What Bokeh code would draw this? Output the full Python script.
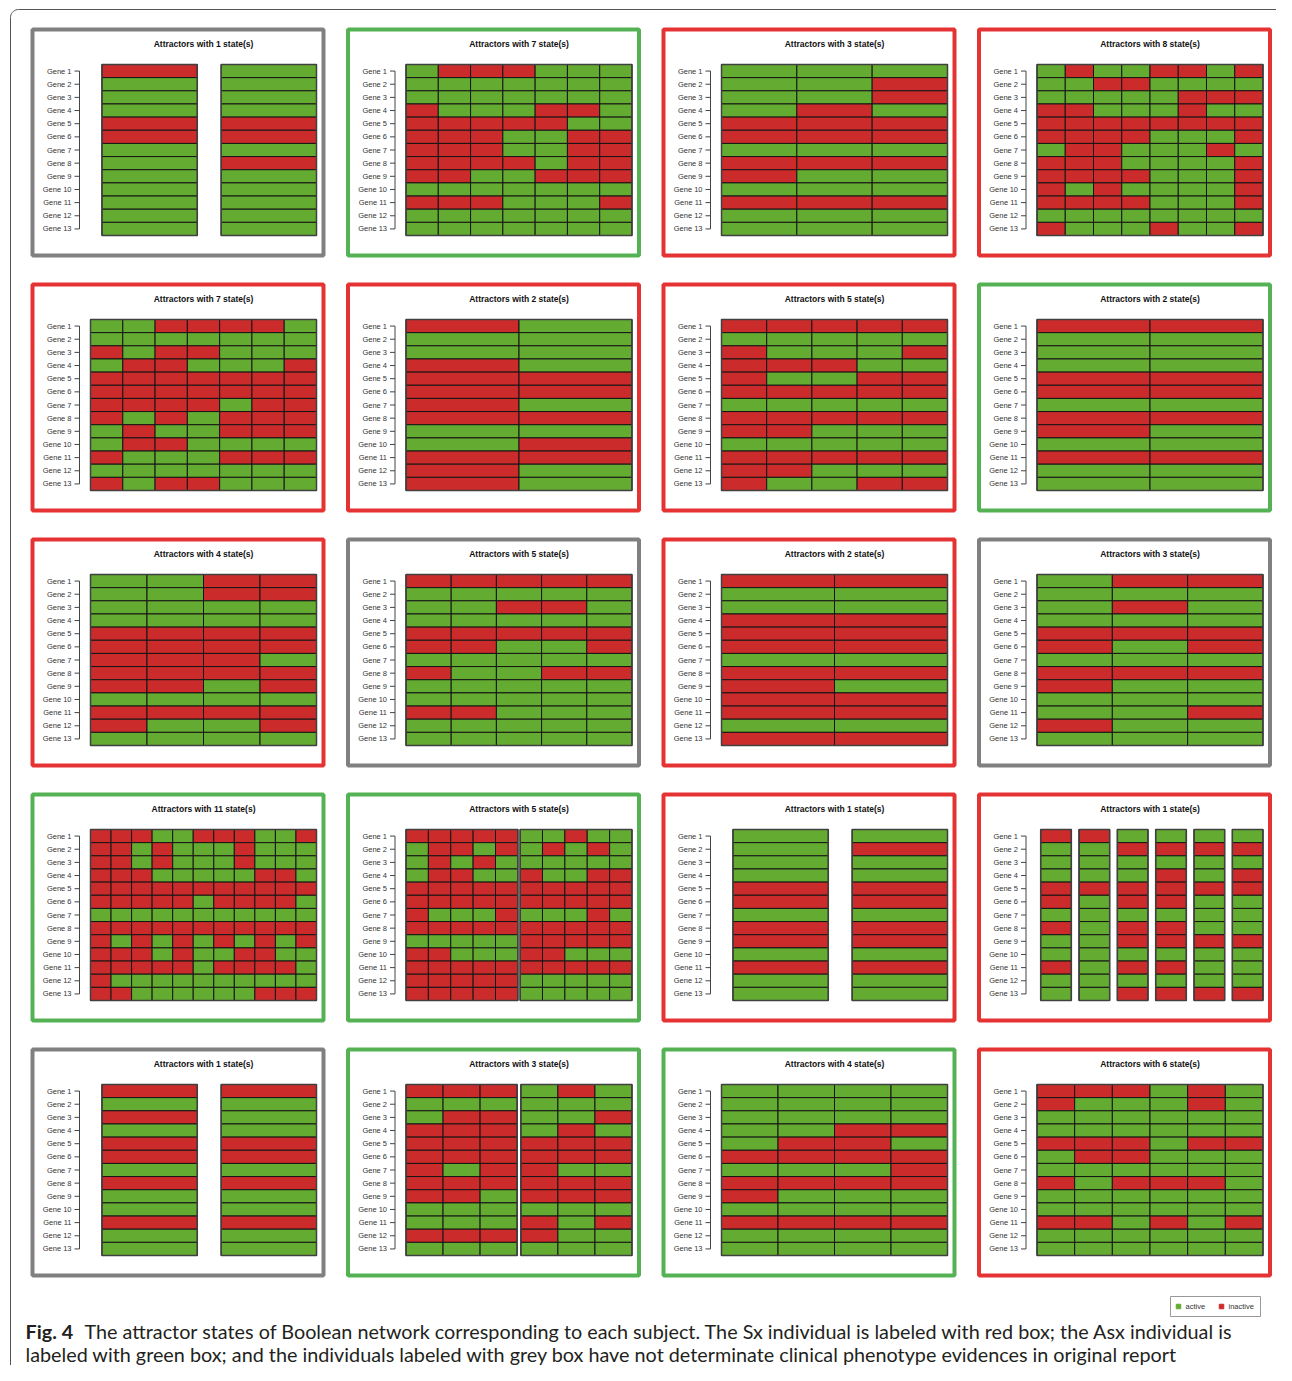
import math
from bokeh.plotting import figure
from bokeh.models import Range1d, ColumnDataSource
from bokeh.core.properties import value
from bokeh.embed import file_html
from bokeh.resources import INLINE

# ---------------- data ----------------
# Tick labels (rows of every heat map)
GENES = ["Gene 1", "Gene 2", "Gene 3", "Gene 4", "Gene 5", "Gene 6", "Gene 7",
         "Gene 8", "Gene 9", "Gene 10", "Gene 11", "Gene 12", "Gene 13"]

# Each panel = list of attractor blocks; each block = 13 space separated gene rows,
# one character per state: G = active, R = inactive.
P01 = ["R G G G R R G G G G G G G", "G G G G R R G R G G G G G"]
P02 = ["GRRRGGG GGGGGGG GGGGGGG RGGGRRG RRRRRGG RRRGGRR RRRGGRR RRRRGRR RRGGRRR GGGGGGG RRRGGGR GGGGGGG GGGGGGG"]
P03 = ["GGG GGR GGR GRG RRR RRR GGG RRR RGG GGG RRR GGG GGG"]
P04 = ["GRGGRRGR GGRRGGGG GGGGGRRR RRGGGRGG RRRRRRRR RRRRGGGR GRRGGGRG RRRGGGGR RRRRGGGR RGRGGGGR RRRRGGGR GGGGGGGG RGGGRGGR"]
P05 = ["GGRRRRG GGGGGGG RGRRGGG GRRGGGR RRRRRRR RRRRRRR RRRRGRR RGRGRRR GRGGRRR GRRGGGG RGGGRRR GGGGGGG RGRRGGG"]
P06 = ["RG GG GG RG RR RR RG RR GG GR RR RG RG"]
P07 = ["RRRRR GGGGG RGGGR RRRGG RGGRR RRRRR GGGGG RRRRR RRGGG GGGGG RRRRR RRGGG RGGRR"]
P08 = ["RR GG GG GG RR RR GG RR RG GG RR GG GG"]
P09 = ["GGRR GGRR GGGG GGGG RRRR RRRR RRRG RRRR RRGR GGGG RRRR RGGR GGGG"]
P10 = ["RRRRR GGGGG GGRRG GGGGG RRRRR RRGGR GGGGG RGGRR GGGGG GGGGG RRGGG GGGGG GGGGG"]
P11 = ["RR GG GG RR RR RR GG RR RG RR RR GG RR"]
P12 = ["GRR GGG GRG GGG RRR RGR GGG RRR RGG GGG GGR RGG GGG"]
P13 = ["RRRGGRRRGGR RRGRGGGRGGG RRGRGGGRGGG RRRGGGGGRRG RRRRRRRRRRR RRRRRGRRRRG GGGGGGGGGGG "
       "RRRRRRRRRRR RGRGRGRGRGR RRRGRGGRRGG RRRRRGRRRRG RGGGGGGGGGG RRGGGGGGRRR"]
P14 = ["RRRRR GRRGR GRGRG GRRGG RRRRR RRRRR RGGGR RRRRR GGGGG RRGGG RRRRR RRRRR RRRRR",
       "GGRGG GRGRG GGGGG RGGRR RRRRR RRRRR GGGRG RRRRR RRRRR RRGGG RRRRR GGGGG GGGGG"]
P15 = ["G G G G R R G R R G R G G", "G R G G R R G R R G R G G"]
P16 = ["R G G G R R G R G G R G G", "R G G G R G G G G G G G G",
       "G R G G R R G R R G R G R", "G R G R R R G R R G R G R",
       "G R G G R G G G R G G G R", "G R G R R G G G R G G G R"]
P17 = ["R G R G R R G R G G R G G", "R G G G R R G R G G R G G"]
P18 = ["RRR GGG GRR RRR RRR RRR RGR RRR RRG GGG GGG RRR GGG",
       "GRG GGG GGR GRG RRR RRR RGG RRR RRR GGG RGR RGG GGG"]
P19 = ["GGGG GGGG GGGG GGRR GRRG RRRR GGGR RRRR RGGG GGGG RRRR GGGG GGGG"]
P20 = ["RRRGRG RGGGRG GGGGGG GGGGGG RRRGRR GRRGGG GGGGGG RGRRRG GGGGGG GGGGGG RRGRGR GGGGGG GGGGGG"]

PANELS = [P01, P02, P03, P04, P05, P06, P07, P08, P09, P10,
          P11, P12, P13, P14, P15, P16, P17, P18, P19, P20]

# Box colour of each subject: red = Sx, green = Asx, grey = undetermined
GROUPS = ["grey", "green", "red", "red",
          "red", "red", "red", "green",
          "red", "grey", "red", "grey",
          "green", "green", "red", "red",
          "grey", "green", "green", "red"]

LEGEND_LABELS = ["active", "inactive"]
CAPTION_BOLD = "Fig. 4"
CAPTION_1 = ("The attractor states of Boolean network corresponding to each subject. "
             "The Sx individual is labeled with red box; the Asx individual is")
CAPTION_2 = ("labeled with green box; and the individuals labeled with grey box have not "
             "determinate clinical phenotype evidences in original report")

# ---------------- style ----------------
ACTIVE = "#63AB31"
INACTIVE = "#CC2B2B"
FRAME = {"red": "#E53232", "green": "#54B254", "grey": "#808080"}
STATE_COLOR = {"G": ACTIVE, "R": INACTIVE}
FONT = "Liberation Sans"

W, H = 1276, 1365
PX0, PDX, PW = 30, 315.5, 295
PY0, PDY, PH = 27, 255, 230
MAP_TOP, MAP_H = 37, 171

p = figure(width=W, height=H, x_range=Range1d(0, W), y_range=Range1d(H, 0),
           output_backend="svg", toolbar_location=None,
           x_axis_location=None, y_axis_location=None, min_border=0)
p.xgrid.visible = False
p.ygrid.visible = False
p.outline_line_color = None
p.background_fill_color = "white"
p.border_fill_color = "white"

cells = dict(left=[], right=[], top=[], bottom=[], color=[])
outl = dict(left=[], right=[], top=[], bottom=[])
frames = dict(left=[], right=[], top=[], bottom=[], color=[])
titles = dict(x=[], y=[], text=[])
labels = dict(x=[], y=[], text=[])
segs = dict(x0=[], y0=[], x1=[], y1=[])

for k, (blocks, grp) in enumerate(zip(PANELS, GROUPS)):
    c, r = k % 4, k // 4
    fx0 = PX0 + c * PDX
    fy0 = PY0 + r * PDY
    frames["left"].append(fx0 + 2)
    frames["right"].append(fx0 + PW - 2)
    frames["top"].append(fy0 + 2)
    frames["bottom"].append(fy0 + PH - 2)
    frames["color"].append(FRAME[grp])

    parsed = [b.split() for b in blocks]
    ncols = [len(rows[0]) for rows in parsed]
    left = fx0 + 60
    right = fx0 + PW - 9
    top = fy0 + MAP_TOP
    rh = MAP_H / len(GENES)
    single = all(n == 1 for n in ncols)
    gap = 0.25 if single else 0.1
    pad = 0.12 if (single and len(ncols) > 1) else 0.0
    cw = (right - left) / (sum(ncols) + gap * (len(ncols) - 1) + pad)
    x = left + pad * cw
    for rows, n in zip(parsed, ncols):
        for gi, row in enumerate(rows):
            for j, s in enumerate(row):
                cells["left"].append(x + j * cw)
                cells["right"].append(x + (j + 1) * cw)
                cells["top"].append(top + gi * rh)
                cells["bottom"].append(top + (gi + 1) * rh)
                cells["color"].append(STATE_COLOR[s])
        outl["left"].append(x)
        outl["right"].append(x + n * cw)
        outl["top"].append(top)
        outl["bottom"].append(top + len(rows) * rh)
        x += (n + gap) * cw

    titles["x"].append((left + right) / 2)
    titles["y"].append(fy0 + 16)
    titles["text"].append(f"Attractors with {ncols[0]} state(s)")

    ax = fx0 + 49
    yc = [top + (gi + 0.5) * rh for gi in range(len(GENES))]
    segs["x0"].append(ax); segs["y0"].append(yc[0])
    segs["x1"].append(ax); segs["y1"].append(yc[-1])
    for gi, g in enumerate(GENES):
        segs["x0"].append(ax - 5); segs["y0"].append(yc[gi])
        segs["x1"].append(ax); segs["y1"].append(yc[gi])
        labels["x"].append(ax - 8)
        labels["y"].append(yc[gi])
        labels["text"].append(g)

# outer page frame (left and top edges with a rounded corner)
rad = 8
arc_pts = [(10 + rad - rad * math.cos(math.radians(a)), 9 + rad - rad * math.sin(math.radians(a)))
           for a in range(0, 91, 10)]
fx = [10] + [pt[0] for pt in arc_pts] + [W]
fy = [H] + [pt[1] for pt in arc_pts] + [9]
p.line(x=fx, y=fy, line_color="#555555", line_width=1)

p.quad(source=ColumnDataSource(frames), left="left", right="right", top="top",
       bottom="bottom", fill_color=None, line_color="color", line_width=4)
p.quad(source=ColumnDataSource(cells), left="left", right="right", top="top",
       bottom="bottom", fill_color="color", line_color="#151515", line_width=1)
p.quad(source=ColumnDataSource(outl), left="left", right="right", top="top",
       bottom="bottom", fill_color=None, line_color="#404040", line_width=1.5)
p.segment(source=ColumnDataSource(segs), x0="x0", y0="y0", x1="x1", y1="y1",
          line_color="#444444", line_width=1)
p.text(source=ColumnDataSource(titles), x="x", y="y", text="text",
       text_font=value(FONT), text_font_size=value("8.5px"), text_font_style="bold",
       text_align="center", text_baseline="middle", text_color="#111111")
p.text(source=ColumnDataSource(labels), x="x", y="y", text="text",
       text_font=value(FONT), text_font_size=value("7.5px"),
       text_align="right", text_baseline="middle", text_color="#333333")

# legend
p.quad(left=[1170], right=[1260], top=[1296], bottom=[1316], fill_color="white",
       line_color="#999999", line_width=1)
p.scatter(x=[1178, 1221], y=[1306, 1306], marker="square", size=4.5,
          color=[ACTIVE, INACTIVE])
p.text(x=[1185, 1228], y=[1306, 1306], text=LEGEND_LABELS,
       text_font=value(FONT), text_font_size=value("7.5px"),
       text_align="left", text_baseline="middle", text_color="#333333")

# caption (kept inside the canvas)
p.text(x=[25], y=[1330], text=[CAPTION_BOLD], text_font=value("Lato"),
       text_font_size=value("19.8px"), text_font_style="bold",
       text_align="left", text_baseline="middle", text_color="#231f20")
p.text(x=[84, 25], y=[1330, 1353], text=[CAPTION_1, CAPTION_2], text_font=value("Lato"),
       text_font_size=value("19.8px"),
       text_align="left", text_baseline="middle", text_color="#231f20")

open("out.html", "w").write(file_html(p, INLINE))
